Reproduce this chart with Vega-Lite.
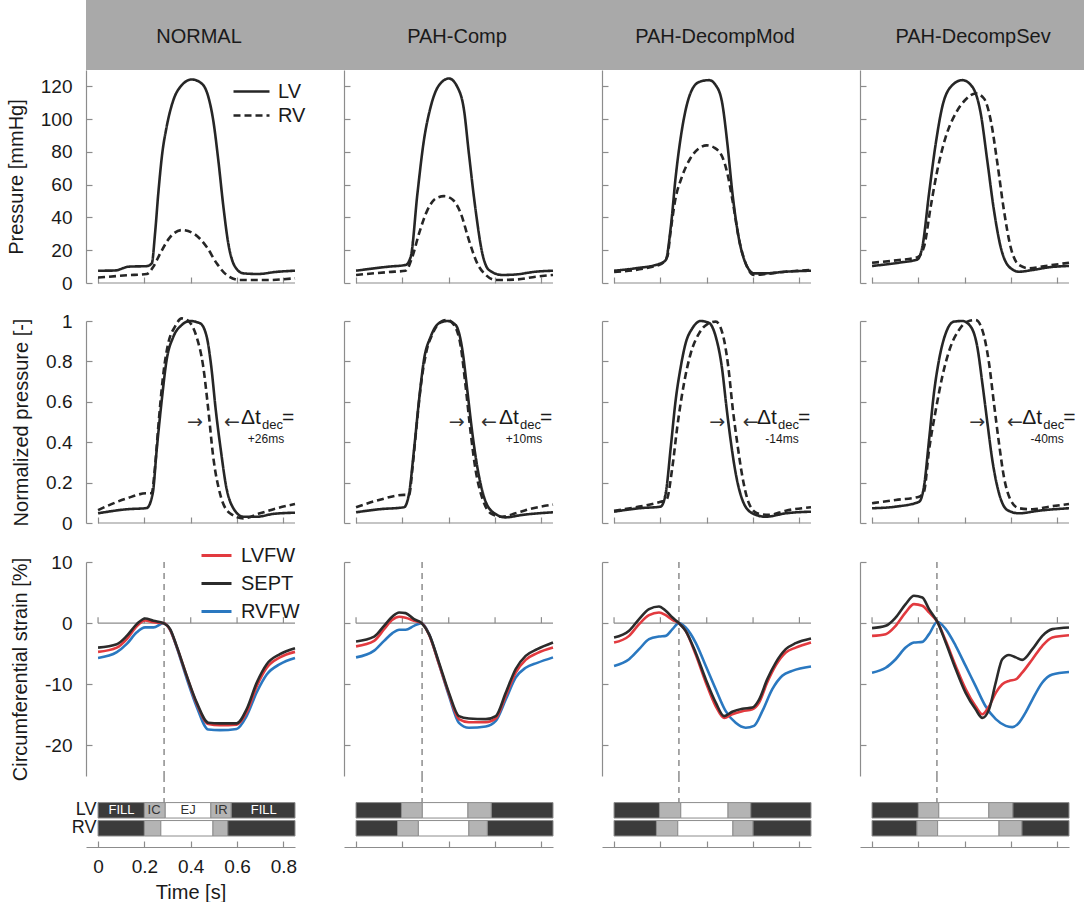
{
"$schema": "https://vega.github.io/schema/vega-lite/v6.json",
"padding": {"left": 6, "top": 0, "right": 0, "bottom": 0},
"background": "white",
"config": {
  "font": "Liberation Sans",
  "view": {"stroke": null},
  "axis": {"grid": false, "domainColor": "#8c8c8c", "tickColor": "#8c8c8c", "domainWidth": 1.2, "tickWidth": 1.2, "tickSize": -6, "tickCount": 12, "labelFontSize": 19, "labelColor": "#1a1a1a", "labelPadding": 20, "titleFontSize": 20, "titleFontWeight": "normal", "titleColor": "#1a1a1a", "titlePadding": 14, "labelFlush": false, "labelOverlap": false},
  "legend": {"labelColor": "#1a1a1a", "labelFont": "Liberation Sans"}
},
"datasets": {
  "scenarios": [{"scenario":"NORMAL"},{"scenario":"PAH-Comp"},{"scenario":"PAH-DecompMod"},{"scenario":"PAH-DecompSev"}],
  "frame": [{"from":0,"to":0.85,"level":0}],
  "ticks": [{"t":0},{"t":0.2},{"t":0.4},{"t":0.6},{"t":0.8}],
  "onset": [{"scenario":"NORMAL","t":0.285},{"scenario":"PAH-Comp","t":0.285},{"scenario":"PAH-DecompMod","t":0.28},{"scenario":"PAH-DecompSev","t":0.28}],
  "dtdec": [
    {"scenario":"NORMAL","label":"+26ms","t":0.617,"tl":0.418,"tr":0.578},
    {"scenario":"PAH-Comp","label":"+10ms","t":0.617,"tl":0.434,"tr":0.574},
    {"scenario":"PAH-DecompMod","label":"-14ms","t":0.617,"tl":0.445,"tr":0.59},
    {"scenario":"PAH-DecompSev","label":"-40ms","t":0.648,"tl":0.454,"tr":0.617}
  ],
  "phaseLabels": [
    {"chamber":"LV","label":"FILL","t":0.101},{"chamber":"LV","label":"IC","t":0.242},{"chamber":"LV","label":"EJ","t":0.389},{"chamber":"LV","label":"IR","t":0.531},{"chamber":"LV","label":"FILL","t":0.715}
  ],
  "phases": [
    {"scenario":"NORMAL","chamber":"LV","phase":"FILL","t0":0,"t1":0.2},
    {"scenario":"NORMAL","chamber":"LV","phase":"IC","t0":0.2,"t1":0.29},
    {"scenario":"NORMAL","chamber":"LV","phase":"EJ","t0":0.29,"t1":0.487},
    {"scenario":"NORMAL","chamber":"LV","phase":"IR","t0":0.487,"t1":0.575},
    {"scenario":"NORMAL","chamber":"LV","phase":"FILL","t0":0.575,"t1":0.85},
    {"scenario":"NORMAL","chamber":"RV","phase":"FILL","t0":0,"t1":0.2},
    {"scenario":"NORMAL","chamber":"RV","phase":"IC","t0":0.2,"t1":0.271},
    {"scenario":"NORMAL","chamber":"RV","phase":"EJ","t0":0.271,"t1":0.496},
    {"scenario":"NORMAL","chamber":"RV","phase":"IR","t0":0.496,"t1":0.56},
    {"scenario":"NORMAL","chamber":"RV","phase":"FILL","t0":0.56,"t1":0.85},
    {"scenario":"PAH-Comp","chamber":"LV","phase":"FILL","t0":0,"t1":0.196},
    {"scenario":"PAH-Comp","chamber":"LV","phase":"IC","t0":0.196,"t1":0.286},
    {"scenario":"PAH-Comp","chamber":"LV","phase":"EJ","t0":0.286,"t1":0.483},
    {"scenario":"PAH-Comp","chamber":"LV","phase":"IR","t0":0.483,"t1":0.584},
    {"scenario":"PAH-Comp","chamber":"LV","phase":"FILL","t0":0.584,"t1":0.85},
    {"scenario":"PAH-Comp","chamber":"RV","phase":"FILL","t0":0,"t1":0.179},
    {"scenario":"PAH-Comp","chamber":"RV","phase":"IC","t0":0.179,"t1":0.269},
    {"scenario":"PAH-Comp","chamber":"RV","phase":"EJ","t0":0.269,"t1":0.487},
    {"scenario":"PAH-Comp","chamber":"RV","phase":"IR","t0":0.487,"t1":0.567},
    {"scenario":"PAH-Comp","chamber":"RV","phase":"FILL","t0":0.567,"t1":0.85},
    {"scenario":"PAH-DecompMod","chamber":"LV","phase":"FILL","t0":0,"t1":0.196},
    {"scenario":"PAH-DecompMod","chamber":"LV","phase":"IC","t0":0.196,"t1":0.288},
    {"scenario":"PAH-DecompMod","chamber":"LV","phase":"EJ","t0":0.288,"t1":0.492},
    {"scenario":"PAH-DecompMod","chamber":"LV","phase":"IR","t0":0.492,"t1":0.59},
    {"scenario":"PAH-DecompMod","chamber":"LV","phase":"FILL","t0":0.59,"t1":0.85},
    {"scenario":"PAH-DecompMod","chamber":"RV","phase":"FILL","t0":0,"t1":0.183},
    {"scenario":"PAH-DecompMod","chamber":"RV","phase":"IC","t0":0.183,"t1":0.275},
    {"scenario":"PAH-DecompMod","chamber":"RV","phase":"EJ","t0":0.275,"t1":0.513},
    {"scenario":"PAH-DecompMod","chamber":"RV","phase":"IR","t0":0.513,"t1":0.6},
    {"scenario":"PAH-DecompMod","chamber":"RV","phase":"FILL","t0":0.6,"t1":0.85},
    {"scenario":"PAH-DecompSev","chamber":"LV","phase":"FILL","t0":0,"t1":0.2},
    {"scenario":"PAH-DecompSev","chamber":"LV","phase":"IC","t0":0.2,"t1":0.288},
    {"scenario":"PAH-DecompSev","chamber":"LV","phase":"EJ","t0":0.288,"t1":0.504},
    {"scenario":"PAH-DecompSev","chamber":"LV","phase":"IR","t0":0.504,"t1":0.608},
    {"scenario":"PAH-DecompSev","chamber":"LV","phase":"FILL","t0":0.608,"t1":0.85},
    {"scenario":"PAH-DecompSev","chamber":"RV","phase":"FILL","t0":0,"t1":0.194},
    {"scenario":"PAH-DecompSev","chamber":"RV","phase":"IC","t0":0.194,"t1":0.283},
    {"scenario":"PAH-DecompSev","chamber":"RV","phase":"EJ","t0":0.283,"t1":0.548},
    {"scenario":"PAH-DecompSev","chamber":"RV","phase":"IR","t0":0.548,"t1":0.647},
    {"scenario":"PAH-DecompSev","chamber":"RV","phase":"FILL","t0":0.647,"t1":0.85}
  ],
  "pressure": [
    {"scenario":"NORMAL","chamber":"LV","t":0,"p":7.5},{"scenario":"NORMAL","chamber":"LV","t":0.07,"p":7.6},{"scenario":"NORMAL","chamber":"LV","t":0.135,"p":10},{"scenario":"NORMAL","chamber":"LV","t":0.21,"p":10.3},{"scenario":"NORMAL","chamber":"LV","t":0.232,"p":12},{"scenario":"NORMAL","chamber":"LV","t":0.246,"p":30.3},{"scenario":"NORMAL","chamber":"LV","t":0.26,"p":54.7},{"scenario":"NORMAL","chamber":"LV","t":0.277,"p":79},{"scenario":"NORMAL","chamber":"LV","t":0.296,"p":95.3},{"scenario":"NORMAL","chamber":"LV","t":0.325,"p":111.6},{"scenario":"NORMAL","chamber":"LV","t":0.361,"p":120.7},{"scenario":"NORMAL","chamber":"LV","t":0.404,"p":124.2},{"scenario":"NORMAL","chamber":"LV","t":0.447,"p":121.8},{"scenario":"NORMAL","chamber":"LV","t":0.476,"p":113.6},{"scenario":"NORMAL","chamber":"LV","t":0.497,"p":99.4},{"scenario":"NORMAL","chamber":"LV","t":0.519,"p":75},{"scenario":"NORMAL","chamber":"LV","t":0.541,"p":46.5},{"scenario":"NORMAL","chamber":"LV","t":0.562,"p":24.2},{"scenario":"NORMAL","chamber":"LV","t":0.591,"p":10},{"scenario":"NORMAL","chamber":"LV","t":0.627,"p":5.9},{"scenario":"NORMAL","chamber":"LV","t":0.69,"p":5.5},{"scenario":"NORMAL","chamber":"LV","t":0.77,"p":6.8},{"scenario":"NORMAL","chamber":"LV","t":0.85,"p":7.5},
    {"scenario":"NORMAL","chamber":"RV","t":0,"p":3.3},{"scenario":"NORMAL","chamber":"RV","t":0.124,"p":4.7},{"scenario":"NORMAL","chamber":"RV","t":0.21,"p":5.5},{"scenario":"NORMAL","chamber":"RV","t":0.239,"p":10},{"scenario":"NORMAL","chamber":"RV","t":0.268,"p":18},{"scenario":"NORMAL","chamber":"RV","t":0.311,"p":28},{"scenario":"NORMAL","chamber":"RV","t":0.361,"p":32.3},{"scenario":"NORMAL","chamber":"RV","t":0.411,"p":30.3},{"scenario":"NORMAL","chamber":"RV","t":0.469,"p":22},{"scenario":"NORMAL","chamber":"RV","t":0.512,"p":12},{"scenario":"NORMAL","chamber":"RV","t":0.555,"p":4.9},{"scenario":"NORMAL","chamber":"RV","t":0.613,"p":1.8},{"scenario":"NORMAL","chamber":"RV","t":0.728,"p":1.8},{"scenario":"NORMAL","chamber":"RV","t":0.85,"p":2.9},
    {"scenario":"PAH-Comp","chamber":"LV","t":0,"p":7.5},{"scenario":"PAH-Comp","chamber":"LV","t":0.142,"p":10},{"scenario":"PAH-Comp","chamber":"LV","t":0.214,"p":11},{"scenario":"PAH-Comp","chamber":"LV","t":0.236,"p":16},{"scenario":"PAH-Comp","chamber":"LV","t":0.265,"p":54.7},{"scenario":"PAH-Comp","chamber":"LV","t":0.293,"p":87.2},{"scenario":"PAH-Comp","chamber":"LV","t":0.322,"p":107.5},{"scenario":"PAH-Comp","chamber":"LV","t":0.358,"p":120.7},{"scenario":"PAH-Comp","chamber":"LV","t":0.401,"p":124.8},{"scenario":"PAH-Comp","chamber":"LV","t":0.437,"p":119.7},{"scenario":"PAH-Comp","chamber":"LV","t":0.466,"p":105.5},{"scenario":"PAH-Comp","chamber":"LV","t":0.487,"p":79},{"scenario":"PAH-Comp","chamber":"LV","t":0.516,"p":44.5},{"scenario":"PAH-Comp","chamber":"LV","t":0.545,"p":18},{"scenario":"PAH-Comp","chamber":"LV","t":0.574,"p":7.9},{"scenario":"PAH-Comp","chamber":"LV","t":0.631,"p":4.9},{"scenario":"PAH-Comp","chamber":"LV","t":0.689,"p":5.2},{"scenario":"PAH-Comp","chamber":"LV","t":0.775,"p":6.9},{"scenario":"PAH-Comp","chamber":"LV","t":0.85,"p":7.5},
    {"scenario":"PAH-Comp","chamber":"RV","t":0,"p":4.9},{"scenario":"PAH-Comp","chamber":"RV","t":0.142,"p":6.7},{"scenario":"PAH-Comp","chamber":"RV","t":0.214,"p":7.5},{"scenario":"PAH-Comp","chamber":"RV","t":0.243,"p":16},{"scenario":"PAH-Comp","chamber":"RV","t":0.272,"p":30.3},{"scenario":"PAH-Comp","chamber":"RV","t":0.308,"p":44.5},{"scenario":"PAH-Comp","chamber":"RV","t":0.344,"p":51.6},{"scenario":"PAH-Comp","chamber":"RV","t":0.38,"p":53},{"scenario":"PAH-Comp","chamber":"RV","t":0.416,"p":51},{"scenario":"PAH-Comp","chamber":"RV","t":0.452,"p":42.5},{"scenario":"PAH-Comp","chamber":"RV","t":0.487,"p":26.2},{"scenario":"PAH-Comp","chamber":"RV","t":0.523,"p":12},{"scenario":"PAH-Comp","chamber":"RV","t":0.56,"p":4.9},{"scenario":"PAH-Comp","chamber":"RV","t":0.603,"p":1.8},{"scenario":"PAH-Comp","chamber":"RV","t":0.689,"p":2.1},{"scenario":"PAH-Comp","chamber":"RV","t":0.775,"p":3.8},{"scenario":"PAH-Comp","chamber":"RV","t":0.85,"p":4.9},
    {"scenario":"PAH-DecompMod","chamber":"LV","t":0,"p":7.5},{"scenario":"PAH-DecompMod","chamber":"LV","t":0.094,"p":9},{"scenario":"PAH-DecompMod","chamber":"LV","t":0.194,"p":11.6},{"scenario":"PAH-DecompMod","chamber":"LV","t":0.223,"p":14},{"scenario":"PAH-DecompMod","chamber":"LV","t":0.245,"p":34.3},{"scenario":"PAH-DecompMod","chamber":"LV","t":0.266,"p":64.8},{"scenario":"PAH-DecompMod","chamber":"LV","t":0.295,"p":95.3},{"scenario":"PAH-DecompMod","chamber":"LV","t":0.324,"p":113.6},{"scenario":"PAH-DecompMod","chamber":"LV","t":0.367,"p":122.7},{"scenario":"PAH-DecompMod","chamber":"LV","t":0.41,"p":123.8},{"scenario":"PAH-DecompMod","chamber":"LV","t":0.439,"p":120.7},{"scenario":"PAH-DecompMod","chamber":"LV","t":0.467,"p":109.6},{"scenario":"PAH-DecompMod","chamber":"LV","t":0.489,"p":85.2},{"scenario":"PAH-DecompMod","chamber":"LV","t":0.511,"p":54.7},{"scenario":"PAH-DecompMod","chamber":"LV","t":0.54,"p":26.2},{"scenario":"PAH-DecompMod","chamber":"LV","t":0.568,"p":12},{"scenario":"PAH-DecompMod","chamber":"LV","t":0.604,"p":5.9},{"scenario":"PAH-DecompMod","chamber":"LV","t":0.654,"p":5.9},{"scenario":"PAH-DecompMod","chamber":"LV","t":0.74,"p":6.9},{"scenario":"PAH-DecompMod","chamber":"LV","t":0.85,"p":7.5},
    {"scenario":"PAH-DecompMod","chamber":"RV","t":0,"p":6.7},{"scenario":"PAH-DecompMod","chamber":"RV","t":0.194,"p":11},{"scenario":"PAH-DecompMod","chamber":"RV","t":0.23,"p":16},{"scenario":"PAH-DecompMod","chamber":"RV","t":0.243,"p":30.3},{"scenario":"PAH-DecompMod","chamber":"RV","t":0.264,"p":50.6},{"scenario":"PAH-DecompMod","chamber":"RV","t":0.293,"p":64.8},{"scenario":"PAH-DecompMod","chamber":"RV","t":0.329,"p":76},{"scenario":"PAH-DecompMod","chamber":"RV","t":0.365,"p":82},{"scenario":"PAH-DecompMod","chamber":"RV","t":0.4,"p":84},{"scenario":"PAH-DecompMod","chamber":"RV","t":0.431,"p":82.7},{"scenario":"PAH-DecompMod","chamber":"RV","t":0.467,"p":77},{"scenario":"PAH-DecompMod","chamber":"RV","t":0.489,"p":66.9},{"scenario":"PAH-DecompMod","chamber":"RV","t":0.511,"p":50.6},{"scenario":"PAH-DecompMod","chamber":"RV","t":0.54,"p":26.2},{"scenario":"PAH-DecompMod","chamber":"RV","t":0.568,"p":12},{"scenario":"PAH-DecompMod","chamber":"RV","t":0.604,"p":4.9},{"scenario":"PAH-DecompMod","chamber":"RV","t":0.654,"p":5.5},{"scenario":"PAH-DecompMod","chamber":"RV","t":0.74,"p":6.9},{"scenario":"PAH-DecompMod","chamber":"RV","t":0.85,"p":7.9},
    {"scenario":"PAH-DecompSev","chamber":"LV","t":0,"p":10.4},{"scenario":"PAH-DecompSev","chamber":"LV","t":0.116,"p":12.4},{"scenario":"PAH-DecompSev","chamber":"LV","t":0.196,"p":14.4},{"scenario":"PAH-DecompSev","chamber":"LV","t":0.217,"p":22},{"scenario":"PAH-DecompSev","chamber":"LV","t":0.246,"p":54.7},{"scenario":"PAH-DecompSev","chamber":"LV","t":0.275,"p":85.2},{"scenario":"PAH-DecompSev","chamber":"LV","t":0.303,"p":107.5},{"scenario":"PAH-DecompSev","chamber":"LV","t":0.346,"p":120.7},{"scenario":"PAH-DecompSev","chamber":"LV","t":0.39,"p":123.8},{"scenario":"PAH-DecompSev","chamber":"LV","t":0.433,"p":119.7},{"scenario":"PAH-DecompSev","chamber":"LV","t":0.469,"p":103.5},{"scenario":"PAH-DecompSev","chamber":"LV","t":0.497,"p":75},{"scenario":"PAH-DecompSev","chamber":"LV","t":0.526,"p":44.5},{"scenario":"PAH-DecompSev","chamber":"LV","t":0.555,"p":22},{"scenario":"PAH-DecompSev","chamber":"LV","t":0.591,"p":10},{"scenario":"PAH-DecompSev","chamber":"LV","t":0.634,"p":6.9},{"scenario":"PAH-DecompSev","chamber":"LV","t":0.692,"p":7.9},{"scenario":"PAH-DecompSev","chamber":"LV","t":0.764,"p":9.6},{"scenario":"PAH-DecompSev","chamber":"LV","t":0.85,"p":10.4},
    {"scenario":"PAH-DecompSev","chamber":"RV","t":0,"p":12.4},{"scenario":"PAH-DecompSev","chamber":"RV","t":0.116,"p":14},{"scenario":"PAH-DecompSev","chamber":"RV","t":0.196,"p":15.7},{"scenario":"PAH-DecompSev","chamber":"RV","t":0.224,"p":22},{"scenario":"PAH-DecompSev","chamber":"RV","t":0.253,"p":46.5},{"scenario":"PAH-DecompSev","chamber":"RV","t":0.282,"p":68.9},{"scenario":"PAH-DecompSev","chamber":"RV","t":0.318,"p":89.2},{"scenario":"PAH-DecompSev","chamber":"RV","t":0.361,"p":103.5},{"scenario":"PAH-DecompSev","chamber":"RV","t":0.404,"p":112},{"scenario":"PAH-DecompSev","chamber":"RV","t":0.447,"p":115.7},{"scenario":"PAH-DecompSev","chamber":"RV","t":0.483,"p":112.6},{"scenario":"PAH-DecompSev","chamber":"RV","t":0.512,"p":99.4},{"scenario":"PAH-DecompSev","chamber":"RV","t":0.541,"p":73},{"scenario":"PAH-DecompSev","chamber":"RV","t":0.569,"p":44.5},{"scenario":"PAH-DecompSev","chamber":"RV","t":0.598,"p":22},{"scenario":"PAH-DecompSev","chamber":"RV","t":0.634,"p":11},{"scenario":"PAH-DecompSev","chamber":"RV","t":0.677,"p":9},{"scenario":"PAH-DecompSev","chamber":"RV","t":0.749,"p":10.4},{"scenario":"PAH-DecompSev","chamber":"RV","t":0.85,"p":12.4}
  ],
  "norm": [
    {"scenario":"NORMAL","chamber":"LV","t":0,"n":0.048},{"scenario":"NORMAL","chamber":"LV","t":0.124,"n":0.068},{"scenario":"NORMAL","chamber":"LV","t":0.21,"n":0.074},{"scenario":"NORMAL","chamber":"LV","t":0.236,"n":0.147},{"scenario":"NORMAL","chamber":"LV","t":0.253,"n":0.361},{"scenario":"NORMAL","chamber":"LV","t":0.275,"n":0.609},{"scenario":"NORMAL","chamber":"LV","t":0.296,"n":0.807},{"scenario":"NORMAL","chamber":"LV","t":0.325,"n":0.922},{"scenario":"NORMAL","chamber":"LV","t":0.361,"n":0.98},{"scenario":"NORMAL","chamber":"LV","t":0.397,"n":1.0},{"scenario":"NORMAL","chamber":"LV","t":0.44,"n":0.989},{"scenario":"NORMAL","chamber":"LV","t":0.469,"n":0.922},{"scenario":"NORMAL","chamber":"LV","t":0.488,"n":0.78},{"scenario":"NORMAL","chamber":"LV","t":0.508,"n":0.56},{"scenario":"NORMAL","chamber":"LV","t":0.53,"n":0.36},{"scenario":"NORMAL","chamber":"LV","t":0.553,"n":0.18},{"scenario":"NORMAL","chamber":"LV","t":0.584,"n":0.073},{"scenario":"NORMAL","chamber":"LV","t":0.627,"n":0.031},{"scenario":"NORMAL","chamber":"LV","t":0.685,"n":0.031},{"scenario":"NORMAL","chamber":"LV","t":0.756,"n":0.045},{"scenario":"NORMAL","chamber":"LV","t":0.85,"n":0.051},
    {"scenario":"NORMAL","chamber":"RV","t":0,"n":0.064},{"scenario":"NORMAL","chamber":"RV","t":0.124,"n":0.122},{"scenario":"NORMAL","chamber":"RV","t":0.21,"n":0.147},{"scenario":"NORMAL","chamber":"RV","t":0.231,"n":0.147},{"scenario":"NORMAL","chamber":"RV","t":0.246,"n":0.279},{"scenario":"NORMAL","chamber":"RV","t":0.26,"n":0.477},{"scenario":"NORMAL","chamber":"RV","t":0.282,"n":0.741},{"scenario":"NORMAL","chamber":"RV","t":0.303,"n":0.89},{"scenario":"NORMAL","chamber":"RV","t":0.332,"n":0.972},{"scenario":"NORMAL","chamber":"RV","t":0.361,"n":1.013},{"scenario":"NORMAL","chamber":"RV","t":0.39,"n":1.0},{"scenario":"NORMAL","chamber":"RV","t":0.425,"n":0.922},{"scenario":"NORMAL","chamber":"RV","t":0.454,"n":0.774},{"scenario":"NORMAL","chamber":"RV","t":0.476,"n":0.559},{"scenario":"NORMAL","chamber":"RV","t":0.497,"n":0.328},{"scenario":"NORMAL","chamber":"RV","t":0.526,"n":0.147},{"scenario":"NORMAL","chamber":"RV","t":0.569,"n":0.048},{"scenario":"NORMAL","chamber":"RV","t":0.627,"n":0.023},{"scenario":"NORMAL","chamber":"RV","t":0.699,"n":0.048},{"scenario":"NORMAL","chamber":"RV","t":0.771,"n":0.073},{"scenario":"NORMAL","chamber":"RV","t":0.85,"n":0.094},
    {"scenario":"PAH-Comp","chamber":"LV","t":0,"n":0.053},{"scenario":"PAH-Comp","chamber":"LV","t":0.099,"n":0.068},{"scenario":"PAH-Comp","chamber":"LV","t":0.207,"n":0.078},{"scenario":"PAH-Comp","chamber":"LV","t":0.229,"n":0.147},{"scenario":"PAH-Comp","chamber":"LV","t":0.25,"n":0.361},{"scenario":"PAH-Comp","chamber":"LV","t":0.272,"n":0.609},{"scenario":"PAH-Comp","chamber":"LV","t":0.293,"n":0.807},{"scenario":"PAH-Comp","chamber":"LV","t":0.322,"n":0.922},{"scenario":"PAH-Comp","chamber":"LV","t":0.358,"n":0.989},{"scenario":"PAH-Comp","chamber":"LV","t":0.394,"n":1.0},{"scenario":"PAH-Comp","chamber":"LV","t":0.43,"n":0.98},{"scenario":"PAH-Comp","chamber":"LV","t":0.459,"n":0.856},{"scenario":"PAH-Comp","chamber":"LV","t":0.48,"n":0.658},{"scenario":"PAH-Comp","chamber":"LV","t":0.502,"n":0.444},{"scenario":"PAH-Comp","chamber":"LV","t":0.523,"n":0.279},{"scenario":"PAH-Comp","chamber":"LV","t":0.552,"n":0.13},{"scenario":"PAH-Comp","chamber":"LV","t":0.588,"n":0.056},{"scenario":"PAH-Comp","chamber":"LV","t":0.646,"n":0.028},{"scenario":"PAH-Comp","chamber":"LV","t":0.717,"n":0.04},{"scenario":"PAH-Comp","chamber":"LV","t":0.85,"n":0.053},
    {"scenario":"PAH-Comp","chamber":"RV","t":0,"n":0.078},{"scenario":"PAH-Comp","chamber":"RV","t":0.099,"n":0.114},{"scenario":"PAH-Comp","chamber":"RV","t":0.207,"n":0.139},{"scenario":"PAH-Comp","chamber":"RV","t":0.229,"n":0.139},{"scenario":"PAH-Comp","chamber":"RV","t":0.244,"n":0.279},{"scenario":"PAH-Comp","chamber":"RV","t":0.261,"n":0.477},{"scenario":"PAH-Comp","chamber":"RV","t":0.279,"n":0.675},{"scenario":"PAH-Comp","chamber":"RV","t":0.302,"n":0.84},{"scenario":"PAH-Comp","chamber":"RV","t":0.331,"n":0.939},{"scenario":"PAH-Comp","chamber":"RV","t":0.367,"n":0.997},{"scenario":"PAH-Comp","chamber":"RV","t":0.394,"n":1.005},{"scenario":"PAH-Comp","chamber":"RV","t":0.423,"n":0.98},{"scenario":"PAH-Comp","chamber":"RV","t":0.452,"n":0.873},{"scenario":"PAH-Comp","chamber":"RV","t":0.473,"n":0.675},{"scenario":"PAH-Comp","chamber":"RV","t":0.495,"n":0.444},{"scenario":"PAH-Comp","chamber":"RV","t":0.516,"n":0.262},{"scenario":"PAH-Comp","chamber":"RV","t":0.545,"n":0.122},{"scenario":"PAH-Comp","chamber":"RV","t":0.581,"n":0.048},{"scenario":"PAH-Comp","chamber":"RV","t":0.631,"n":0.031},{"scenario":"PAH-Comp","chamber":"RV","t":0.688,"n":0.048},{"scenario":"PAH-Comp","chamber":"RV","t":0.746,"n":0.068},{"scenario":"PAH-Comp","chamber":"RV","t":0.85,"n":0.091},
    {"scenario":"PAH-DecompMod","chamber":"LV","t":0,"n":0.056},{"scenario":"PAH-DecompMod","chamber":"LV","t":0.108,"n":0.073},{"scenario":"PAH-DecompMod","chamber":"LV","t":0.201,"n":0.081},{"scenario":"PAH-DecompMod","chamber":"LV","t":0.223,"n":0.147},{"scenario":"PAH-DecompMod","chamber":"LV","t":0.245,"n":0.378},{"scenario":"PAH-DecompMod","chamber":"LV","t":0.266,"n":0.609},{"scenario":"PAH-DecompMod","chamber":"LV","t":0.288,"n":0.774},{"scenario":"PAH-DecompMod","chamber":"LV","t":0.309,"n":0.89},{"scenario":"PAH-DecompMod","chamber":"LV","t":0.338,"n":0.964},{"scenario":"PAH-DecompMod","chamber":"LV","t":0.374,"n":1.0},{"scenario":"PAH-DecompMod","chamber":"LV","t":0.41,"n":0.991},{"scenario":"PAH-DecompMod","chamber":"LV","t":0.439,"n":0.922},{"scenario":"PAH-DecompMod","chamber":"LV","t":0.465,"n":0.774},{"scenario":"PAH-DecompMod","chamber":"LV","t":0.485,"n":0.576},{"scenario":"PAH-DecompMod","chamber":"LV","t":0.503,"n":0.411},{"scenario":"PAH-DecompMod","chamber":"LV","t":0.525,"n":0.246},{"scenario":"PAH-DecompMod","chamber":"LV","t":0.554,"n":0.114},{"scenario":"PAH-DecompMod","chamber":"LV","t":0.597,"n":0.048},{"scenario":"PAH-DecompMod","chamber":"LV","t":0.654,"n":0.031},{"scenario":"PAH-DecompMod","chamber":"LV","t":0.741,"n":0.048},{"scenario":"PAH-DecompMod","chamber":"LV","t":0.85,"n":0.056},
    {"scenario":"PAH-DecompMod","chamber":"RV","t":0,"n":0.061},{"scenario":"PAH-DecompMod","chamber":"RV","t":0.108,"n":0.081},{"scenario":"PAH-DecompMod","chamber":"RV","t":0.201,"n":0.105},{"scenario":"PAH-DecompMod","chamber":"RV","t":0.226,"n":0.114},{"scenario":"PAH-DecompMod","chamber":"RV","t":0.252,"n":0.279},{"scenario":"PAH-DecompMod","chamber":"RV","t":0.273,"n":0.477},{"scenario":"PAH-DecompMod","chamber":"RV","t":0.302,"n":0.692},{"scenario":"PAH-DecompMod","chamber":"RV","t":0.331,"n":0.84},{"scenario":"PAH-DecompMod","chamber":"RV","t":0.367,"n":0.939},{"scenario":"PAH-DecompMod","chamber":"RV","t":0.403,"n":0.985},{"scenario":"PAH-DecompMod","chamber":"RV","t":0.439,"n":0.997},{"scenario":"PAH-DecompMod","chamber":"RV","t":0.468,"n":0.939},{"scenario":"PAH-DecompMod","chamber":"RV","t":0.493,"n":0.774},{"scenario":"PAH-DecompMod","chamber":"RV","t":0.513,"n":0.559},{"scenario":"PAH-DecompMod","chamber":"RV","t":0.532,"n":0.394},{"scenario":"PAH-DecompMod","chamber":"RV","t":0.554,"n":0.229},{"scenario":"PAH-DecompMod","chamber":"RV","t":0.582,"n":0.098},{"scenario":"PAH-DecompMod","chamber":"RV","t":0.618,"n":0.048},{"scenario":"PAH-DecompMod","chamber":"RV","t":0.669,"n":0.04},{"scenario":"PAH-DecompMod","chamber":"RV","t":0.741,"n":0.061},{"scenario":"PAH-DecompMod","chamber":"RV","t":0.85,"n":0.078},
    {"scenario":"PAH-DecompSev","chamber":"LV","t":0,"n":0.073},{"scenario":"PAH-DecompSev","chamber":"LV","t":0.102,"n":0.081},{"scenario":"PAH-DecompSev","chamber":"LV","t":0.203,"n":0.105},{"scenario":"PAH-DecompSev","chamber":"LV","t":0.224,"n":0.18},{"scenario":"PAH-DecompSev","chamber":"LV","t":0.246,"n":0.411},{"scenario":"PAH-DecompSev","chamber":"LV","t":0.267,"n":0.642},{"scenario":"PAH-DecompSev","chamber":"LV","t":0.289,"n":0.807},{"scenario":"PAH-DecompSev","chamber":"LV","t":0.318,"n":0.939},{"scenario":"PAH-DecompSev","chamber":"LV","t":0.354,"n":0.997},{"scenario":"PAH-DecompSev","chamber":"LV","t":0.39,"n":1.0},{"scenario":"PAH-DecompSev","chamber":"LV","t":0.426,"n":0.972},{"scenario":"PAH-DecompSev","chamber":"LV","t":0.454,"n":0.873},{"scenario":"PAH-DecompSev","chamber":"LV","t":0.476,"n":0.692},{"scenario":"PAH-DecompSev","chamber":"LV","t":0.498,"n":0.494},{"scenario":"PAH-DecompSev","chamber":"LV","t":0.519,"n":0.312},{"scenario":"PAH-DecompSev","chamber":"LV","t":0.548,"n":0.147},{"scenario":"PAH-DecompSev","chamber":"LV","t":0.584,"n":0.064},{"scenario":"PAH-DecompSev","chamber":"LV","t":0.634,"n":0.048},{"scenario":"PAH-DecompSev","chamber":"LV","t":0.72,"n":0.061},{"scenario":"PAH-DecompSev","chamber":"LV","t":0.85,"n":0.073},
    {"scenario":"PAH-DecompSev","chamber":"RV","t":0,"n":0.098},{"scenario":"PAH-DecompSev","chamber":"RV","t":0.102,"n":0.114},{"scenario":"PAH-DecompSev","chamber":"RV","t":0.203,"n":0.13},{"scenario":"PAH-DecompSev","chamber":"RV","t":0.224,"n":0.155},{"scenario":"PAH-DecompSev","chamber":"RV","t":0.246,"n":0.361},{"scenario":"PAH-DecompSev","chamber":"RV","t":0.275,"n":0.559},{"scenario":"PAH-DecompSev","chamber":"RV","t":0.303,"n":0.724},{"scenario":"PAH-DecompSev","chamber":"RV","t":0.339,"n":0.873},{"scenario":"PAH-DecompSev","chamber":"RV","t":0.375,"n":0.955},{"scenario":"PAH-DecompSev","chamber":"RV","t":0.411,"n":0.997},{"scenario":"PAH-DecompSev","chamber":"RV","t":0.447,"n":1.005},{"scenario":"PAH-DecompSev","chamber":"RV","t":0.476,"n":0.955},{"scenario":"PAH-DecompSev","chamber":"RV","t":0.505,"n":0.79},{"scenario":"PAH-DecompSev","chamber":"RV","t":0.526,"n":0.593},{"scenario":"PAH-DecompSev","chamber":"RV","t":0.548,"n":0.394},{"scenario":"PAH-DecompSev","chamber":"RV","t":0.569,"n":0.229},{"scenario":"PAH-DecompSev","chamber":"RV","t":0.598,"n":0.114},{"scenario":"PAH-DecompSev","chamber":"RV","t":0.634,"n":0.073},{"scenario":"PAH-DecompSev","chamber":"RV","t":0.692,"n":0.068},{"scenario":"PAH-DecompSev","chamber":"RV","t":0.764,"n":0.081},{"scenario":"PAH-DecompSev","chamber":"RV","t":0.85,"n":0.094}
  ],
  "strain": [
    {"scenario":"NORMAL","segment":"RVFW","t":0,"s":-5.7},{"scenario":"NORMAL","segment":"RVFW","t":0.081,"s":-4.75},{"scenario":"NORMAL","segment":"RVFW","t":0.124,"s":-3.4},{"scenario":"NORMAL","segment":"RVFW","t":0.167,"s":-1.5},{"scenario":"NORMAL","segment":"RVFW","t":0.203,"s":-0.7},{"scenario":"NORMAL","segment":"RVFW","t":0.239,"s":-0.7},{"scenario":"NORMAL","segment":"RVFW","t":0.282,"s":0},{"scenario":"NORMAL","segment":"RVFW","t":0.311,"s":-1.1},{"scenario":"NORMAL","segment":"RVFW","t":0.339,"s":-3.9},{"scenario":"NORMAL","segment":"RVFW","t":0.383,"s":-9.1},{"scenario":"NORMAL","segment":"RVFW","t":0.426,"s":-13.7},{"scenario":"NORMAL","segment":"RVFW","t":0.476,"s":-17.4},{"scenario":"NORMAL","segment":"RVFW","t":0.526,"s":-17.5},{"scenario":"NORMAL","segment":"RVFW","t":0.598,"s":-17.3},{"scenario":"NORMAL","segment":"RVFW","t":0.641,"s":-15.2},{"scenario":"NORMAL","segment":"RVFW","t":0.685,"s":-11.3},{"scenario":"NORMAL","segment":"RVFW","t":0.728,"s":-8.4},{"scenario":"NORMAL","segment":"RVFW","t":0.785,"s":-6.7},{"scenario":"NORMAL","segment":"RVFW","t":0.85,"s":-5.7},
    {"scenario":"NORMAL","segment":"LVFW","t":0,"s":-4.7},{"scenario":"NORMAL","segment":"LVFW","t":0.081,"s":-4.0},{"scenario":"NORMAL","segment":"LVFW","t":0.124,"s":-2.6},{"scenario":"NORMAL","segment":"LVFW","t":0.167,"s":-0.5},{"scenario":"NORMAL","segment":"LVFW","t":0.203,"s":0.44},{"scenario":"NORMAL","segment":"LVFW","t":0.239,"s":0.16},{"scenario":"NORMAL","segment":"LVFW","t":0.282,"s":0},{"scenario":"NORMAL","segment":"LVFW","t":0.311,"s":-1.1},{"scenario":"NORMAL","segment":"LVFW","t":0.339,"s":-3.8},{"scenario":"NORMAL","segment":"LVFW","t":0.383,"s":-8.7},{"scenario":"NORMAL","segment":"LVFW","t":0.426,"s":-13.2},{"scenario":"NORMAL","segment":"LVFW","t":0.476,"s":-16.5},{"scenario":"NORMAL","segment":"LVFW","t":0.526,"s":-16.7},{"scenario":"NORMAL","segment":"LVFW","t":0.598,"s":-16.6},{"scenario":"NORMAL","segment":"LVFW","t":0.641,"s":-14.6},{"scenario":"NORMAL","segment":"LVFW","t":0.685,"s":-10.3},{"scenario":"NORMAL","segment":"LVFW","t":0.728,"s":-7.3},{"scenario":"NORMAL","segment":"LVFW","t":0.785,"s":-5.6},{"scenario":"NORMAL","segment":"LVFW","t":0.85,"s":-4.7},
    {"scenario":"NORMAL","segment":"SEPT","t":0,"s":-4.0},{"scenario":"NORMAL","segment":"SEPT","t":0.081,"s":-3.44},{"scenario":"NORMAL","segment":"SEPT","t":0.124,"s":-2.08},{"scenario":"NORMAL","segment":"SEPT","t":0.167,"s":-0.16},{"scenario":"NORMAL","segment":"SEPT","t":0.203,"s":0.77},{"scenario":"NORMAL","segment":"SEPT","t":0.239,"s":0.38},{"scenario":"NORMAL","segment":"SEPT","t":0.282,"s":0},{"scenario":"NORMAL","segment":"SEPT","t":0.311,"s":-0.98},{"scenario":"NORMAL","segment":"SEPT","t":0.339,"s":-3.72},{"scenario":"NORMAL","segment":"SEPT","t":0.383,"s":-8.63},{"scenario":"NORMAL","segment":"SEPT","t":0.426,"s":-13.0},{"scenario":"NORMAL","segment":"SEPT","t":0.476,"s":-16.3},{"scenario":"NORMAL","segment":"SEPT","t":0.526,"s":-16.4},{"scenario":"NORMAL","segment":"SEPT","t":0.598,"s":-16.4},{"scenario":"NORMAL","segment":"SEPT","t":0.641,"s":-14.1},{"scenario":"NORMAL","segment":"SEPT","t":0.685,"s":-9.73},{"scenario":"NORMAL","segment":"SEPT","t":0.728,"s":-6.72},{"scenario":"NORMAL","segment":"SEPT","t":0.785,"s":-5.08},{"scenario":"NORMAL","segment":"SEPT","t":0.85,"s":-4.1},
    {"scenario":"PAH-Comp","segment":"RVFW","t":0,"s":-5.6},{"scenario":"PAH-Comp","segment":"RVFW","t":0.078,"s":-4.5},{"scenario":"PAH-Comp","segment":"RVFW","t":0.121,"s":-2.9},{"scenario":"PAH-Comp","segment":"RVFW","t":0.157,"s":-1.64},{"scenario":"PAH-Comp","segment":"RVFW","t":0.186,"s":-1.09},{"scenario":"PAH-Comp","segment":"RVFW","t":0.214,"s":-1.09},{"scenario":"PAH-Comp","segment":"RVFW","t":0.25,"s":-0.44},{"scenario":"PAH-Comp","segment":"RVFW","t":0.283,"s":0},{"scenario":"PAH-Comp","segment":"RVFW","t":0.315,"s":-1.8},{"scenario":"PAH-Comp","segment":"RVFW","t":0.358,"s":-6.7},{"scenario":"PAH-Comp","segment":"RVFW","t":0.401,"s":-11.9},{"scenario":"PAH-Comp","segment":"RVFW","t":0.444,"s":-16.3},{"scenario":"PAH-Comp","segment":"RVFW","t":0.487,"s":-17.1},{"scenario":"PAH-Comp","segment":"RVFW","t":0.56,"s":-16.9},{"scenario":"PAH-Comp","segment":"RVFW","t":0.603,"s":-16.0},{"scenario":"PAH-Comp","segment":"RVFW","t":0.646,"s":-12.5},{"scenario":"PAH-Comp","segment":"RVFW","t":0.689,"s":-8.9},{"scenario":"PAH-Comp","segment":"RVFW","t":0.732,"s":-7.3},{"scenario":"PAH-Comp","segment":"RVFW","t":0.782,"s":-6.5},{"scenario":"PAH-Comp","segment":"RVFW","t":0.85,"s":-5.6},
    {"scenario":"PAH-Comp","segment":"LVFW","t":0,"s":-3.8},{"scenario":"PAH-Comp","segment":"LVFW","t":0.078,"s":-2.9},{"scenario":"PAH-Comp","segment":"LVFW","t":0.121,"s":-1.0},{"scenario":"PAH-Comp","segment":"LVFW","t":0.157,"s":0.55},{"scenario":"PAH-Comp","segment":"LVFW","t":0.186,"s":1.04},{"scenario":"PAH-Comp","segment":"LVFW","t":0.214,"s":0.87},{"scenario":"PAH-Comp","segment":"LVFW","t":0.25,"s":0.38},{"scenario":"PAH-Comp","segment":"LVFW","t":0.283,"s":0},{"scenario":"PAH-Comp","segment":"LVFW","t":0.315,"s":-1.9},{"scenario":"PAH-Comp","segment":"LVFW","t":0.358,"s":-6.7},{"scenario":"PAH-Comp","segment":"LVFW","t":0.401,"s":-11.6},{"scenario":"PAH-Comp","segment":"LVFW","t":0.444,"s":-15.7},{"scenario":"PAH-Comp","segment":"LVFW","t":0.487,"s":-16.2},{"scenario":"PAH-Comp","segment":"LVFW","t":0.56,"s":-16.2},{"scenario":"PAH-Comp","segment":"LVFW","t":0.603,"s":-15.6},{"scenario":"PAH-Comp","segment":"LVFW","t":0.646,"s":-11.9},{"scenario":"PAH-Comp","segment":"LVFW","t":0.689,"s":-8.1},{"scenario":"PAH-Comp","segment":"LVFW","t":0.732,"s":-6.0},{"scenario":"PAH-Comp","segment":"LVFW","t":0.782,"s":-4.9},{"scenario":"PAH-Comp","segment":"LVFW","t":0.85,"s":-4.0},
    {"scenario":"PAH-Comp","segment":"SEPT","t":0,"s":-3.0},{"scenario":"PAH-Comp","segment":"SEPT","t":0.078,"s":-2.2},{"scenario":"PAH-Comp","segment":"SEPT","t":0.121,"s":-0.44},{"scenario":"PAH-Comp","segment":"SEPT","t":0.157,"s":1.09},{"scenario":"PAH-Comp","segment":"SEPT","t":0.186,"s":1.75},{"scenario":"PAH-Comp","segment":"SEPT","t":0.214,"s":1.64},{"scenario":"PAH-Comp","segment":"SEPT","t":0.25,"s":0.66},{"scenario":"PAH-Comp","segment":"SEPT","t":0.283,"s":0},{"scenario":"PAH-Comp","segment":"SEPT","t":0.315,"s":-1.8},{"scenario":"PAH-Comp","segment":"SEPT","t":0.358,"s":-6.45},{"scenario":"PAH-Comp","segment":"SEPT","t":0.401,"s":-11.4},{"scenario":"PAH-Comp","segment":"SEPT","t":0.444,"s":-15.2},{"scenario":"PAH-Comp","segment":"SEPT","t":0.487,"s":-15.6},{"scenario":"PAH-Comp","segment":"SEPT","t":0.56,"s":-15.7},{"scenario":"PAH-Comp","segment":"SEPT","t":0.603,"s":-15.2},{"scenario":"PAH-Comp","segment":"SEPT","t":0.646,"s":-11.4},{"scenario":"PAH-Comp","segment":"SEPT","t":0.689,"s":-7.5},{"scenario":"PAH-Comp","segment":"SEPT","t":0.732,"s":-5.36},{"scenario":"PAH-Comp","segment":"SEPT","t":0.782,"s":-4.26},{"scenario":"PAH-Comp","segment":"SEPT","t":0.85,"s":-3.17},
    {"scenario":"PAH-DecompMod","segment":"RVFW","t":0,"s":-7.0},{"scenario":"PAH-DecompMod","segment":"RVFW","t":0.065,"s":-5.9},{"scenario":"PAH-DecompMod","segment":"RVFW","t":0.108,"s":-4.26},{"scenario":"PAH-DecompMod","segment":"RVFW","t":0.151,"s":-2.62},{"scenario":"PAH-DecompMod","segment":"RVFW","t":0.194,"s":-2.19},{"scenario":"PAH-DecompMod","segment":"RVFW","t":0.223,"s":-2.08},{"scenario":"PAH-DecompMod","segment":"RVFW","t":0.252,"s":-0.98},{"scenario":"PAH-DecompMod","segment":"RVFW","t":0.28,"s":0},{"scenario":"PAH-DecompMod","segment":"RVFW","t":0.309,"s":-0.71},{"scenario":"PAH-DecompMod","segment":"RVFW","t":0.352,"s":-3.17},{"scenario":"PAH-DecompMod","segment":"RVFW","t":0.396,"s":-7.0},{"scenario":"PAH-DecompMod","segment":"RVFW","t":0.439,"s":-10.8},{"scenario":"PAH-DecompMod","segment":"RVFW","t":0.482,"s":-14.4},{"scenario":"PAH-DecompMod","segment":"RVFW","t":0.525,"s":-16.3},{"scenario":"PAH-DecompMod","segment":"RVFW","t":0.568,"s":-17.1},{"scenario":"PAH-DecompMod","segment":"RVFW","t":0.604,"s":-16.8},{"scenario":"PAH-DecompMod","segment":"RVFW","t":0.64,"s":-14.4},{"scenario":"PAH-DecompMod","segment":"RVFW","t":0.683,"s":-10.8},{"scenario":"PAH-DecompMod","segment":"RVFW","t":0.726,"s":-8.6},{"scenario":"PAH-DecompMod","segment":"RVFW","t":0.769,"s":-7.8},{"scenario":"PAH-DecompMod","segment":"RVFW","t":0.85,"s":-7.1},
    {"scenario":"PAH-DecompMod","segment":"LVFW","t":0,"s":-3.17},{"scenario":"PAH-DecompMod","segment":"LVFW","t":0.065,"s":-2.08},{"scenario":"PAH-DecompMod","segment":"LVFW","t":0.108,"s":-0.16},{"scenario":"PAH-DecompMod","segment":"LVFW","t":0.151,"s":1.31},{"scenario":"PAH-DecompMod","segment":"LVFW","t":0.194,"s":1.75},{"scenario":"PAH-DecompMod","segment":"LVFW","t":0.223,"s":1.31},{"scenario":"PAH-DecompMod","segment":"LVFW","t":0.252,"s":0.55},{"scenario":"PAH-DecompMod","segment":"LVFW","t":0.28,"s":0},{"scenario":"PAH-DecompMod","segment":"LVFW","t":0.309,"s":-1.26},{"scenario":"PAH-DecompMod","segment":"LVFW","t":0.352,"s":-5.1},{"scenario":"PAH-DecompMod","segment":"LVFW","t":0.396,"s":-9.7},{"scenario":"PAH-DecompMod","segment":"LVFW","t":0.439,"s":-13.6},{"scenario":"PAH-DecompMod","segment":"LVFW","t":0.475,"s":-15.5},{"scenario":"PAH-DecompMod","segment":"LVFW","t":0.51,"s":-14.9},{"scenario":"PAH-DecompMod","segment":"LVFW","t":0.554,"s":-14.4},{"scenario":"PAH-DecompMod","segment":"LVFW","t":0.597,"s":-14.1},{"scenario":"PAH-DecompMod","segment":"LVFW","t":0.626,"s":-13.0},{"scenario":"PAH-DecompMod","segment":"LVFW","t":0.661,"s":-9.7},{"scenario":"PAH-DecompMod","segment":"LVFW","t":0.698,"s":-6.9},{"scenario":"PAH-DecompMod","segment":"LVFW","t":0.741,"s":-4.8},{"scenario":"PAH-DecompMod","segment":"LVFW","t":0.784,"s":-4.0},{"scenario":"PAH-DecompMod","segment":"LVFW","t":0.85,"s":-3.17},
    {"scenario":"PAH-DecompMod","segment":"SEPT","t":0,"s":-2.35},{"scenario":"PAH-DecompMod","segment":"SEPT","t":0.065,"s":-1.26},{"scenario":"PAH-DecompMod","segment":"SEPT","t":0.108,"s":0.66},{"scenario":"PAH-DecompMod","segment":"SEPT","t":0.151,"s":2.3},{"scenario":"PAH-DecompMod","segment":"SEPT","t":0.194,"s":2.73},{"scenario":"PAH-DecompMod","segment":"SEPT","t":0.223,"s":2.02},{"scenario":"PAH-DecompMod","segment":"SEPT","t":0.252,"s":0.93},{"scenario":"PAH-DecompMod","segment":"SEPT","t":0.28,"s":0},{"scenario":"PAH-DecompMod","segment":"SEPT","t":0.309,"s":-1.26},{"scenario":"PAH-DecompMod","segment":"SEPT","t":0.352,"s":-4.8},{"scenario":"PAH-DecompMod","segment":"SEPT","t":0.396,"s":-9.2},{"scenario":"PAH-DecompMod","segment":"SEPT","t":0.439,"s":-13.0},{"scenario":"PAH-DecompMod","segment":"SEPT","t":0.475,"s":-15.2},{"scenario":"PAH-DecompMod","segment":"SEPT","t":0.51,"s":-14.5},{"scenario":"PAH-DecompMod","segment":"SEPT","t":0.554,"s":-14.0},{"scenario":"PAH-DecompMod","segment":"SEPT","t":0.597,"s":-13.8},{"scenario":"PAH-DecompMod","segment":"SEPT","t":0.626,"s":-12.5},{"scenario":"PAH-DecompMod","segment":"SEPT","t":0.661,"s":-9.2},{"scenario":"PAH-DecompMod","segment":"SEPT","t":0.698,"s":-6.45},{"scenario":"PAH-DecompMod","segment":"SEPT","t":0.741,"s":-4.26},{"scenario":"PAH-DecompMod","segment":"SEPT","t":0.784,"s":-3.28},{"scenario":"PAH-DecompMod","segment":"SEPT","t":0.85,"s":-2.5},
    {"scenario":"PAH-DecompSev","segment":"RVFW","t":0,"s":-8.1},{"scenario":"PAH-DecompSev","segment":"RVFW","t":0.059,"s":-7.3},{"scenario":"PAH-DecompSev","segment":"RVFW","t":0.102,"s":-5.9},{"scenario":"PAH-DecompSev","segment":"RVFW","t":0.145,"s":-4.0},{"scenario":"PAH-DecompSev","segment":"RVFW","t":0.181,"s":-3.17},{"scenario":"PAH-DecompSev","segment":"RVFW","t":0.217,"s":-3.06},{"scenario":"PAH-DecompSev","segment":"RVFW","t":0.246,"s":-1.8},{"scenario":"PAH-DecompSev","segment":"RVFW","t":0.282,"s":0.22},{"scenario":"PAH-DecompSev","segment":"RVFW","t":0.318,"s":-0.98},{"scenario":"PAH-DecompSev","segment":"RVFW","t":0.361,"s":-3.7},{"scenario":"PAH-DecompSev","segment":"RVFW","t":0.404,"s":-7.0},{"scenario":"PAH-DecompSev","segment":"RVFW","t":0.447,"s":-10.3},{"scenario":"PAH-DecompSev","segment":"RVFW","t":0.49,"s":-13.6},{"scenario":"PAH-DecompSev","segment":"RVFW","t":0.534,"s":-15.7},{"scenario":"PAH-DecompSev","segment":"RVFW","t":0.577,"s":-16.8},{"scenario":"PAH-DecompSev","segment":"RVFW","t":0.605,"s":-17.0},{"scenario":"PAH-DecompSev","segment":"RVFW","t":0.634,"s":-16.3},{"scenario":"PAH-DecompSev","segment":"RVFW","t":0.663,"s":-14.6},{"scenario":"PAH-DecompSev","segment":"RVFW","t":0.692,"s":-12.5},{"scenario":"PAH-DecompSev","segment":"RVFW","t":0.735,"s":-9.7},{"scenario":"PAH-DecompSev","segment":"RVFW","t":0.778,"s":-8.4},{"scenario":"PAH-DecompSev","segment":"RVFW","t":0.85,"s":-8.0},
    {"scenario":"PAH-DecompSev","segment":"LVFW","t":0,"s":-2.08},{"scenario":"PAH-DecompSev","segment":"LVFW","t":0.059,"s":-1.8},{"scenario":"PAH-DecompSev","segment":"LVFW","t":0.102,"s":-0.44},{"scenario":"PAH-DecompSev","segment":"LVFW","t":0.145,"s":1.75},{"scenario":"PAH-DecompSev","segment":"LVFW","t":0.181,"s":3.11},{"scenario":"PAH-DecompSev","segment":"LVFW","t":0.217,"s":2.84},{"scenario":"PAH-DecompSev","segment":"LVFW","t":0.246,"s":1.75},{"scenario":"PAH-DecompSev","segment":"LVFW","t":0.282,"s":0.2},{"scenario":"PAH-DecompSev","segment":"LVFW","t":0.318,"s":-2.9},{"scenario":"PAH-DecompSev","segment":"LVFW","t":0.361,"s":-7.0},{"scenario":"PAH-DecompSev","segment":"LVFW","t":0.404,"s":-10.8},{"scenario":"PAH-DecompSev","segment":"LVFW","t":0.447,"s":-13.6},{"scenario":"PAH-DecompSev","segment":"LVFW","t":0.476,"s":-14.9},{"scenario":"PAH-DecompSev","segment":"LVFW","t":0.505,"s":-13.6},{"scenario":"PAH-DecompSev","segment":"LVFW","t":0.534,"s":-11.4},{"scenario":"PAH-DecompSev","segment":"LVFW","t":0.562,"s":-10.0},{"scenario":"PAH-DecompSev","segment":"LVFW","t":0.591,"s":-9.45},{"scenario":"PAH-DecompSev","segment":"LVFW","t":0.62,"s":-9.2},{"scenario":"PAH-DecompSev","segment":"LVFW","t":0.648,"s":-8.1},{"scenario":"PAH-DecompSev","segment":"LVFW","t":0.692,"s":-5.9},{"scenario":"PAH-DecompSev","segment":"LVFW","t":0.735,"s":-3.7},{"scenario":"PAH-DecompSev","segment":"LVFW","t":0.778,"s":-2.35},{"scenario":"PAH-DecompSev","segment":"LVFW","t":0.85,"s":-1.97},
    {"scenario":"PAH-DecompSev","segment":"SEPT","t":0,"s":-0.82},{"scenario":"PAH-DecompSev","segment":"SEPT","t":0.059,"s":-0.44},{"scenario":"PAH-DecompSev","segment":"SEPT","t":0.102,"s":0.93},{"scenario":"PAH-DecompSev","segment":"SEPT","t":0.145,"s":3.11},{"scenario":"PAH-DecompSev","segment":"SEPT","t":0.181,"s":4.48},{"scenario":"PAH-DecompSev","segment":"SEPT","t":0.217,"s":4.2},{"scenario":"PAH-DecompSev","segment":"SEPT","t":0.246,"s":2.3},{"scenario":"PAH-DecompSev","segment":"SEPT","t":0.282,"s":0.2},{"scenario":"PAH-DecompSev","segment":"SEPT","t":0.318,"s":-3.17},{"scenario":"PAH-DecompSev","segment":"SEPT","t":0.361,"s":-7.5},{"scenario":"PAH-DecompSev","segment":"SEPT","t":0.404,"s":-11.4},{"scenario":"PAH-DecompSev","segment":"SEPT","t":0.447,"s":-14.1},{"scenario":"PAH-DecompSev","segment":"SEPT","t":0.476,"s":-15.5},{"scenario":"PAH-DecompSev","segment":"SEPT","t":0.505,"s":-14.1},{"scenario":"PAH-DecompSev","segment":"SEPT","t":0.534,"s":-9.7},{"scenario":"PAH-DecompSev","segment":"SEPT","t":0.562,"s":-5.9},{"scenario":"PAH-DecompSev","segment":"SEPT","t":0.591,"s":-5.2},{"scenario":"PAH-DecompSev","segment":"SEPT","t":0.62,"s":-5.6},{"scenario":"PAH-DecompSev","segment":"SEPT","t":0.648,"s":-6.0},{"scenario":"PAH-DecompSev","segment":"SEPT","t":0.692,"s":-4.26},{"scenario":"PAH-DecompSev","segment":"SEPT","t":0.735,"s":-2.08},{"scenario":"PAH-DecompSev","segment":"SEPT","t":0.778,"s":-0.98},{"scenario":"PAH-DecompSev","segment":"SEPT","t":0.85,"s":-0.71}
  ]
},
"columns": 4,
"spacing": 0,
"bounds": "flush",
"align": "each",
"resolve": {"scale": {"color": "independent", "strokeDash": "independent"}, "legend": {"color": "independent", "strokeDash": "independent"}},
"concat": [
  {"width": 258, "height": 70, "view": {"fill": "#a9a9a9", "stroke": null}, "data": {"name": "scenarios"}, "transform": [{"filter": "datum.scenario === 'NORMAL'"}],
   "mark": {"type": "text", "fontSize": 20, "color": "#1a1a1a", "baseline": "middle", "dx": -16, "dy": 2}, "encoding": {"text": {"field": "scenario"}}},
  {"width": 258, "height": 70, "view": {"fill": "#a9a9a9", "stroke": null}, "data": {"name": "scenarios"}, "transform": [{"filter": "datum.scenario === 'PAH-Comp'"}],
   "mark": {"type": "text", "fontSize": 20, "color": "#1a1a1a", "baseline": "middle", "dx": -16, "dy": 2}, "encoding": {"text": {"field": "scenario"}}},
  {"width": 258, "height": 70, "view": {"fill": "#a9a9a9", "stroke": null}, "data": {"name": "scenarios"}, "transform": [{"filter": "datum.scenario === 'PAH-DecompMod'"}],
   "mark": {"type": "text", "fontSize": 20, "color": "#1a1a1a", "baseline": "middle", "dx": -16, "dy": 2}, "encoding": {"text": {"field": "scenario"}}},
  {"width": 224, "height": 70, "view": {"fill": "#a9a9a9", "stroke": null}, "data": {"name": "scenarios"}, "transform": [{"filter": "datum.scenario === 'PAH-DecompSev'"}],
   "mark": {"type": "text", "fontSize": 20, "color": "#1a1a1a", "baseline": "middle", "dx": 1, "dy": 2}, "encoding": {"text": {"field": "scenario"}}},

  {"width": 209, "height": 213, "layer": [
    {"data": {"name": "frame"}, "mark": {"type": "rule", "color": "#8c8c8c", "strokeWidth": 1.2},
     "encoding": {"x": {"field": "from", "type": "quantitative", "scale": {"domain": [-0.052, 0.85], "nice": false, "zero": false}, "axis": {"values": [0,0.2,0.4,0.6,0.8], "domain": false, "labels": false, "title": null}},
                  "x2": {"field": "to"},
                  "y": {"field": "level", "type": "quantitative", "scale": {"domain": [0, 130], "nice": false}, "axis": {"values": [0,20,40,60,80,100,120], "labelExpr": "'' + datum.value", "title": "Pressure [mmHg]"}}}},
    {"data": {"name": "pressure"}, "transform": [{"filter": "datum.scenario === 'NORMAL'"}],
     "mark": {"type": "line", "color": "#262626", "strokeWidth": 2.6, "interpolate": "monotone"},
     "encoding": {"x": {"field": "t", "type": "quantitative"}, "y": {"field": "p", "type": "quantitative"},
                  "strokeDash": {"field": "chamber", "type": "nominal", "scale": {"domain": ["LV","RV"], "range": [[1,0],[7,4]]},
                                 "legend": {"title": null, "orient": "none", "legendX": 155, "legendY": 11, "symbolType": "M-2,0L2,0", "symbolSize": 324, "symbolStrokeWidth": 2.6, "symbolStrokeColor": "#262626", "symbolFillColor": "transparent", "labelFontSize": 20, "labelOffset": 16, "rowPadding": 3, "padding": 0}}}}
  ]},
  {"width": 209, "height": 213, "layer": [
    {"data": {"name": "frame"}, "mark": {"type": "rule", "color": "#8c8c8c", "strokeWidth": 1.2},
     "encoding": {"x": {"field": "from", "type": "quantitative", "scale": {"domain": [-0.052, 0.85], "nice": false, "zero": false}, "axis": {"values": [0,0.2,0.4,0.6,0.8], "domain": false, "labels": false, "title": null}},
                  "x2": {"field": "to"},
                  "y": {"field": "level", "type": "quantitative", "scale": {"domain": [0, 130], "nice": false}, "axis": {"values": [0,20,40,60,80,100,120], "labels": false, "title": null}}}},
    {"data": {"name": "pressure"}, "transform": [{"filter": "datum.scenario === 'PAH-Comp'"}],
     "mark": {"type": "line", "color": "#262626", "strokeWidth": 2.6, "interpolate": "monotone"},
     "encoding": {"x": {"field": "t", "type": "quantitative"}, "y": {"field": "p", "type": "quantitative"},
                  "strokeDash": {"field": "chamber", "type": "nominal", "scale": {"domain": ["LV","RV"], "range": [[1,0],[7,4]]}, "legend": null}}}
  ]},
  {"width": 209, "height": 213, "layer": [
    {"data": {"name": "frame"}, "mark": {"type": "rule", "color": "#8c8c8c", "strokeWidth": 1.2},
     "encoding": {"x": {"field": "from", "type": "quantitative", "scale": {"domain": [-0.052, 0.85], "nice": false, "zero": false}, "axis": {"values": [0,0.2,0.4,0.6,0.8], "domain": false, "labels": false, "title": null}},
                  "x2": {"field": "to"},
                  "y": {"field": "level", "type": "quantitative", "scale": {"domain": [0, 130], "nice": false}, "axis": {"values": [0,20,40,60,80,100,120], "labels": false, "title": null}}}},
    {"data": {"name": "pressure"}, "transform": [{"filter": "datum.scenario === 'PAH-DecompMod'"}],
     "mark": {"type": "line", "color": "#262626", "strokeWidth": 2.6, "interpolate": "monotone"},
     "encoding": {"x": {"field": "t", "type": "quantitative"}, "y": {"field": "p", "type": "quantitative"},
                  "strokeDash": {"field": "chamber", "type": "nominal", "scale": {"domain": ["LV","RV"], "range": [[1,0],[7,4]]}, "legend": null}}}
  ]},
  {"width": 209, "height": 213, "layer": [
    {"data": {"name": "frame"}, "mark": {"type": "rule", "color": "#8c8c8c", "strokeWidth": 1.2},
     "encoding": {"x": {"field": "from", "type": "quantitative", "scale": {"domain": [-0.052, 0.85], "nice": false, "zero": false}, "axis": {"values": [0,0.2,0.4,0.6,0.8], "domain": false, "labels": false, "title": null}},
                  "x2": {"field": "to"},
                  "y": {"field": "level", "type": "quantitative", "scale": {"domain": [0, 130], "nice": false}, "axis": {"values": [0,20,40,60,80,100,120], "labels": false, "title": null}}}},
    {"data": {"name": "pressure"}, "transform": [{"filter": "datum.scenario === 'PAH-DecompSev'"}],
     "mark": {"type": "line", "color": "#262626", "strokeWidth": 2.6, "interpolate": "monotone"},
     "encoding": {"x": {"field": "t", "type": "quantitative"}, "y": {"field": "p", "type": "quantitative"},
                  "strokeDash": {"field": "chamber", "type": "nominal", "scale": {"domain": ["LV","RV"], "range": [[1,0],[7,4]]}, "legend": null}}}
  ]},

  {"width": 209, "height": 38, "data": {"values": []}, "mark": "point"},
  {"width": 209, "height": 38, "data": {"values": []}, "mark": "point"},
  {"width": 209, "height": 38, "data": {"values": []}, "mark": "point"},
  {"width": 209, "height": 38, "data": {"values": []}, "mark": "point"},

  {"width": 209, "height": 202, "layer": [
    {"data": {"name": "frame"}, "mark": {"type": "rule", "color": "#8c8c8c", "strokeWidth": 1.2},
     "encoding": {"x": {"field": "from", "type": "quantitative", "scale": {"domain": [-0.052, 0.85], "nice": false, "zero": false}, "axis": {"values": [0,0.2,0.4,0.6,0.8], "domain": false, "labels": false, "title": null}},
                  "x2": {"field": "to"},
                  "y": {"field": "level", "type": "quantitative", "scale": {"domain": [0, 1], "nice": false}, "axis": {"values": [0,0.2,0.4,0.6,0.8,1], "labelExpr": "'' + datum.value", "title": "Normalized pressure [-]"}}}},
    {"data": {"name": "norm"}, "transform": [{"filter": "datum.scenario === 'NORMAL'"}],
     "mark": {"type": "line", "color": "#262626", "strokeWidth": 2.6, "interpolate": "monotone"},
     "encoding": {"x": {"field": "t", "type": "quantitative"}, "y": {"field": "n", "type": "quantitative"},
                  "strokeDash": {"field": "chamber", "type": "nominal", "scale": {"domain": ["LV","RV"], "range": [[1,0],[7,4]]}, "legend": null}}},
    {"data": {"name": "dtdec"}, "transform": [{"filter": "datum.scenario === 'NORMAL'"}],
     "layer": [
       {"mark": {"type": "text", "text": "Δt", "fontSize": 21, "align": "left", "baseline": "middle", "color": "#1a1a1a"}, "encoding": {"x": {"field": "t", "type": "quantitative"}, "y": {"datum": 0.52}}},
       {"mark": {"type": "text", "text": "dec", "fontSize": 13, "align": "left", "baseline": "middle", "dx": 21, "dy": 7, "color": "#1a1a1a"}, "encoding": {"x": {"field": "t", "type": "quantitative"}, "y": {"datum": 0.52}}},
       {"mark": {"type": "text", "text": "=", "fontSize": 21, "align": "left", "baseline": "middle", "dx": 41, "color": "#1a1a1a"}, "encoding": {"x": {"field": "t", "type": "quantitative"}, "y": {"datum": 0.52}}},
       {"mark": {"type": "text", "fontSize": 12, "align": "center", "baseline": "middle", "dx": 25, "dy": 21, "color": "#1a1a1a"}, "encoding": {"x": {"field": "t", "type": "quantitative"}, "y": {"datum": 0.52}, "text": {"field": "label"}}},
       {"mark": {"type": "text", "text": "→", "font": "DejaVu Sans", "fontSize": 19, "align": "center", "baseline": "middle", "color": "#333333"}, "encoding": {"x": {"field": "tl", "type": "quantitative"}, "y": {"datum": 0.5}}},
       {"mark": {"type": "text", "text": "←", "font": "DejaVu Sans", "fontSize": 19, "align": "center", "baseline": "middle", "color": "#333333"}, "encoding": {"x": {"field": "tr", "type": "quantitative"}, "y": {"datum": 0.5}}}
     ]}
  ]},
  {"width": 209, "height": 202, "layer": [
    {"data": {"name": "frame"}, "mark": {"type": "rule", "color": "#8c8c8c", "strokeWidth": 1.2},
     "encoding": {"x": {"field": "from", "type": "quantitative", "scale": {"domain": [-0.052, 0.85], "nice": false, "zero": false}, "axis": {"values": [0,0.2,0.4,0.6,0.8], "domain": false, "labels": false, "title": null}},
                  "x2": {"field": "to"},
                  "y": {"field": "level", "type": "quantitative", "scale": {"domain": [0, 1], "nice": false}, "axis": {"values": [0,0.2,0.4,0.6,0.8,1], "labels": false, "title": null}}}},
    {"data": {"name": "norm"}, "transform": [{"filter": "datum.scenario === 'PAH-Comp'"}],
     "mark": {"type": "line", "color": "#262626", "strokeWidth": 2.6, "interpolate": "monotone"},
     "encoding": {"x": {"field": "t", "type": "quantitative"}, "y": {"field": "n", "type": "quantitative"},
                  "strokeDash": {"field": "chamber", "type": "nominal", "scale": {"domain": ["LV","RV"], "range": [[1,0],[7,4]]}, "legend": null}}},
    {"data": {"name": "dtdec"}, "transform": [{"filter": "datum.scenario === 'PAH-Comp'"}],
     "layer": [
       {"mark": {"type": "text", "text": "Δt", "fontSize": 21, "align": "left", "baseline": "middle", "color": "#1a1a1a"}, "encoding": {"x": {"field": "t", "type": "quantitative"}, "y": {"datum": 0.52}}},
       {"mark": {"type": "text", "text": "dec", "fontSize": 13, "align": "left", "baseline": "middle", "dx": 21, "dy": 7, "color": "#1a1a1a"}, "encoding": {"x": {"field": "t", "type": "quantitative"}, "y": {"datum": 0.52}}},
       {"mark": {"type": "text", "text": "=", "fontSize": 21, "align": "left", "baseline": "middle", "dx": 41, "color": "#1a1a1a"}, "encoding": {"x": {"field": "t", "type": "quantitative"}, "y": {"datum": 0.52}}},
       {"mark": {"type": "text", "fontSize": 12, "align": "center", "baseline": "middle", "dx": 25, "dy": 21, "color": "#1a1a1a"}, "encoding": {"x": {"field": "t", "type": "quantitative"}, "y": {"datum": 0.52}, "text": {"field": "label"}}},
       {"mark": {"type": "text", "text": "→", "font": "DejaVu Sans", "fontSize": 19, "align": "center", "baseline": "middle", "color": "#333333"}, "encoding": {"x": {"field": "tl", "type": "quantitative"}, "y": {"datum": 0.5}}},
       {"mark": {"type": "text", "text": "←", "font": "DejaVu Sans", "fontSize": 19, "align": "center", "baseline": "middle", "color": "#333333"}, "encoding": {"x": {"field": "tr", "type": "quantitative"}, "y": {"datum": 0.5}}}
     ]}
  ]},
  {"width": 209, "height": 202, "layer": [
    {"data": {"name": "frame"}, "mark": {"type": "rule", "color": "#8c8c8c", "strokeWidth": 1.2},
     "encoding": {"x": {"field": "from", "type": "quantitative", "scale": {"domain": [-0.052, 0.85], "nice": false, "zero": false}, "axis": {"values": [0,0.2,0.4,0.6,0.8], "domain": false, "labels": false, "title": null}},
                  "x2": {"field": "to"},
                  "y": {"field": "level", "type": "quantitative", "scale": {"domain": [0, 1], "nice": false}, "axis": {"values": [0,0.2,0.4,0.6,0.8,1], "labels": false, "title": null}}}},
    {"data": {"name": "norm"}, "transform": [{"filter": "datum.scenario === 'PAH-DecompMod'"}],
     "mark": {"type": "line", "color": "#262626", "strokeWidth": 2.6, "interpolate": "monotone"},
     "encoding": {"x": {"field": "t", "type": "quantitative"}, "y": {"field": "n", "type": "quantitative"},
                  "strokeDash": {"field": "chamber", "type": "nominal", "scale": {"domain": ["LV","RV"], "range": [[1,0],[7,4]]}, "legend": null}}},
    {"data": {"name": "dtdec"}, "transform": [{"filter": "datum.scenario === 'PAH-DecompMod'"}],
     "layer": [
       {"mark": {"type": "text", "text": "Δt", "fontSize": 21, "align": "left", "baseline": "middle", "color": "#1a1a1a"}, "encoding": {"x": {"field": "t", "type": "quantitative"}, "y": {"datum": 0.52}}},
       {"mark": {"type": "text", "text": "dec", "fontSize": 13, "align": "left", "baseline": "middle", "dx": 21, "dy": 7, "color": "#1a1a1a"}, "encoding": {"x": {"field": "t", "type": "quantitative"}, "y": {"datum": 0.52}}},
       {"mark": {"type": "text", "text": "=", "fontSize": 21, "align": "left", "baseline": "middle", "dx": 41, "color": "#1a1a1a"}, "encoding": {"x": {"field": "t", "type": "quantitative"}, "y": {"datum": 0.52}}},
       {"mark": {"type": "text", "fontSize": 12, "align": "center", "baseline": "middle", "dx": 25, "dy": 21, "color": "#1a1a1a"}, "encoding": {"x": {"field": "t", "type": "quantitative"}, "y": {"datum": 0.52}, "text": {"field": "label"}}},
       {"mark": {"type": "text", "text": "→", "font": "DejaVu Sans", "fontSize": 19, "align": "center", "baseline": "middle", "color": "#333333"}, "encoding": {"x": {"field": "tl", "type": "quantitative"}, "y": {"datum": 0.5}}},
       {"mark": {"type": "text", "text": "←", "font": "DejaVu Sans", "fontSize": 19, "align": "center", "baseline": "middle", "color": "#333333"}, "encoding": {"x": {"field": "tr", "type": "quantitative"}, "y": {"datum": 0.5}}}
     ]}
  ]},
  {"width": 209, "height": 202, "layer": [
    {"data": {"name": "frame"}, "mark": {"type": "rule", "color": "#8c8c8c", "strokeWidth": 1.2},
     "encoding": {"x": {"field": "from", "type": "quantitative", "scale": {"domain": [-0.052, 0.85], "nice": false, "zero": false}, "axis": {"values": [0,0.2,0.4,0.6,0.8], "domain": false, "labels": false, "title": null}},
                  "x2": {"field": "to"},
                  "y": {"field": "level", "type": "quantitative", "scale": {"domain": [0, 1], "nice": false}, "axis": {"values": [0,0.2,0.4,0.6,0.8,1], "labels": false, "title": null}}}},
    {"data": {"name": "norm"}, "transform": [{"filter": "datum.scenario === 'PAH-DecompSev'"}],
     "mark": {"type": "line", "color": "#262626", "strokeWidth": 2.6, "interpolate": "monotone"},
     "encoding": {"x": {"field": "t", "type": "quantitative"}, "y": {"field": "n", "type": "quantitative"},
                  "strokeDash": {"field": "chamber", "type": "nominal", "scale": {"domain": ["LV","RV"], "range": [[1,0],[7,4]]}, "legend": null}}},
    {"data": {"name": "dtdec"}, "transform": [{"filter": "datum.scenario === 'PAH-DecompSev'"}],
     "layer": [
       {"mark": {"type": "text", "text": "Δt", "fontSize": 21, "align": "left", "baseline": "middle", "color": "#1a1a1a"}, "encoding": {"x": {"field": "t", "type": "quantitative"}, "y": {"datum": 0.52}}},
       {"mark": {"type": "text", "text": "dec", "fontSize": 13, "align": "left", "baseline": "middle", "dx": 21, "dy": 7, "color": "#1a1a1a"}, "encoding": {"x": {"field": "t", "type": "quantitative"}, "y": {"datum": 0.52}}},
       {"mark": {"type": "text", "text": "=", "fontSize": 21, "align": "left", "baseline": "middle", "dx": 41, "color": "#1a1a1a"}, "encoding": {"x": {"field": "t", "type": "quantitative"}, "y": {"datum": 0.52}}},
       {"mark": {"type": "text", "fontSize": 12, "align": "center", "baseline": "middle", "dx": 25, "dy": 21, "color": "#1a1a1a"}, "encoding": {"x": {"field": "t", "type": "quantitative"}, "y": {"datum": 0.52}, "text": {"field": "label"}}},
       {"mark": {"type": "text", "text": "→", "font": "DejaVu Sans", "fontSize": 19, "align": "center", "baseline": "middle", "color": "#333333"}, "encoding": {"x": {"field": "tl", "type": "quantitative"}, "y": {"datum": 0.5}}},
       {"mark": {"type": "text", "text": "←", "font": "DejaVu Sans", "fontSize": 19, "align": "center", "baseline": "middle", "color": "#333333"}, "encoding": {"x": {"field": "tr", "type": "quantitative"}, "y": {"datum": 0.5}}}
     ]}
  ]},

  {"width": 209, "height": 39, "data": {"values": []}, "mark": "point"},
  {"width": 209, "height": 39, "data": {"values": []}, "mark": "point"},
  {"width": 209, "height": 39, "data": {"values": []}, "mark": "point"},
  {"width": 209, "height": 39, "data": {"values": []}, "mark": "point"},

  {"width": 209, "height": 214, "layer": [
    {"data": {"name": "frame"}, "mark": {"type": "rule", "color": "#8c8c8c", "strokeWidth": 1.2},
     "encoding": {"x": {"field": "from", "type": "quantitative", "scale": {"domain": [-0.052, 0.85], "nice": false, "zero": false}, "axis": null},
                  "x2": {"field": "to"},
                  "y": {"field": "level", "type": "quantitative", "scale": {"domain": [-25, 10], "nice": false, "zero": false}, "axis": {"values": [-20,-10,0,10], "labelExpr": "'' + datum.value", "title": "Circumferential strain [%]"}}}},
    {"data": {"name": "ticks"}, "mark": {"type": "point", "shape": "M0,0L0,-1", "size": 144, "filled": false, "stroke": "#8c8c8c", "strokeWidth": 1.2, "opacity": 1},
     "encoding": {"x": {"field": "t", "type": "quantitative", "axis": null}, "y": {"datum": 0}}},
    {"data": {"name": "onset"}, "transform": [{"filter": "datum.scenario === 'NORMAL'"}], "mark": {"type": "rule", "color": "#8c8c8c", "strokeDash": [6,5], "strokeWidth": 1.5},
     "encoding": {"x": {"field": "t", "type": "quantitative", "axis": null}}},
    {"data": {"name": "strain"}, "transform": [{"filter": "datum.scenario === 'NORMAL'"}],
     "mark": {"type": "line", "strokeWidth": 2.6, "interpolate": "monotone"},
     "encoding": {"x": {"field": "t", "type": "quantitative", "axis": null}, "y": {"field": "s", "type": "quantitative"},
                  "color": {"field": "segment", "type": "nominal", "scale": {"domain": ["LVFW","SEPT","RVFW"], "range": ["#e23a3f","#2b2b2b","#2a78c0"]},
                            "legend": {"title": null, "orient": "none", "legendX": 114, "legendY": -23, "symbolType": "stroke", "symbolSize": 900, "symbolStrokeWidth": 3, "labelFontSize": 20, "labelOffset": 8, "rowPadding": 1, "padding": 0}}}}
  ]},
  {"width": 209, "height": 214, "layer": [
    {"data": {"name": "frame"}, "mark": {"type": "rule", "color": "#8c8c8c", "strokeWidth": 1.2},
     "encoding": {"x": {"field": "from", "type": "quantitative", "scale": {"domain": [-0.052, 0.85], "nice": false, "zero": false}, "axis": null},
                  "x2": {"field": "to"},
                  "y": {"field": "level", "type": "quantitative", "scale": {"domain": [-25, 10], "nice": false, "zero": false}, "axis": {"values": [-20,-10,0,10], "labels": false, "title": null}}}},
    {"data": {"name": "ticks"}, "mark": {"type": "point", "shape": "M0,0L0,-1", "size": 144, "filled": false, "stroke": "#8c8c8c", "strokeWidth": 1.2, "opacity": 1},
     "encoding": {"x": {"field": "t", "type": "quantitative", "axis": null}, "y": {"datum": 0}}},
    {"data": {"name": "onset"}, "transform": [{"filter": "datum.scenario === 'PAH-Comp'"}], "mark": {"type": "rule", "color": "#8c8c8c", "strokeDash": [6,5], "strokeWidth": 1.5},
     "encoding": {"x": {"field": "t", "type": "quantitative", "axis": null}}},
    {"data": {"name": "strain"}, "transform": [{"filter": "datum.scenario === 'PAH-Comp'"}],
     "mark": {"type": "line", "strokeWidth": 2.6, "interpolate": "monotone"},
     "encoding": {"x": {"field": "t", "type": "quantitative", "axis": null}, "y": {"field": "s", "type": "quantitative"},
                  "color": {"field": "segment", "type": "nominal", "scale": {"domain": ["LVFW","SEPT","RVFW"], "range": ["#e23a3f","#2b2b2b","#2a78c0"]}, "legend": null}}}
  ]},
  {"width": 209, "height": 214, "layer": [
    {"data": {"name": "frame"}, "mark": {"type": "rule", "color": "#8c8c8c", "strokeWidth": 1.2},
     "encoding": {"x": {"field": "from", "type": "quantitative", "scale": {"domain": [-0.052, 0.85], "nice": false, "zero": false}, "axis": null},
                  "x2": {"field": "to"},
                  "y": {"field": "level", "type": "quantitative", "scale": {"domain": [-25, 10], "nice": false, "zero": false}, "axis": {"values": [-20,-10,0,10], "labels": false, "title": null}}}},
    {"data": {"name": "ticks"}, "mark": {"type": "point", "shape": "M0,0L0,-1", "size": 144, "filled": false, "stroke": "#8c8c8c", "strokeWidth": 1.2, "opacity": 1},
     "encoding": {"x": {"field": "t", "type": "quantitative", "axis": null}, "y": {"datum": 0}}},
    {"data": {"name": "onset"}, "transform": [{"filter": "datum.scenario === 'PAH-DecompMod'"}], "mark": {"type": "rule", "color": "#8c8c8c", "strokeDash": [6,5], "strokeWidth": 1.5},
     "encoding": {"x": {"field": "t", "type": "quantitative", "axis": null}}},
    {"data": {"name": "strain"}, "transform": [{"filter": "datum.scenario === 'PAH-DecompMod'"}],
     "mark": {"type": "line", "strokeWidth": 2.6, "interpolate": "monotone"},
     "encoding": {"x": {"field": "t", "type": "quantitative", "axis": null}, "y": {"field": "s", "type": "quantitative"},
                  "color": {"field": "segment", "type": "nominal", "scale": {"domain": ["LVFW","SEPT","RVFW"], "range": ["#e23a3f","#2b2b2b","#2a78c0"]}, "legend": null}}}
  ]},
  {"width": 209, "height": 214, "layer": [
    {"data": {"name": "frame"}, "mark": {"type": "rule", "color": "#8c8c8c", "strokeWidth": 1.2},
     "encoding": {"x": {"field": "from", "type": "quantitative", "scale": {"domain": [-0.052, 0.85], "nice": false, "zero": false}, "axis": null},
                  "x2": {"field": "to"},
                  "y": {"field": "level", "type": "quantitative", "scale": {"domain": [-25, 10], "nice": false, "zero": false}, "axis": {"values": [-20,-10,0,10], "labels": false, "title": null}}}},
    {"data": {"name": "ticks"}, "mark": {"type": "point", "shape": "M0,0L0,-1", "size": 144, "filled": false, "stroke": "#8c8c8c", "strokeWidth": 1.2, "opacity": 1},
     "encoding": {"x": {"field": "t", "type": "quantitative", "axis": null}, "y": {"datum": 0}}},
    {"data": {"name": "onset"}, "transform": [{"filter": "datum.scenario === 'PAH-DecompSev'"}], "mark": {"type": "rule", "color": "#8c8c8c", "strokeDash": [6,5], "strokeWidth": 1.5},
     "encoding": {"x": {"field": "t", "type": "quantitative", "axis": null}}},
    {"data": {"name": "strain"}, "transform": [{"filter": "datum.scenario === 'PAH-DecompSev'"}],
     "mark": {"type": "line", "strokeWidth": 2.6, "interpolate": "monotone"},
     "encoding": {"x": {"field": "t", "type": "quantitative", "axis": null}, "y": {"field": "s", "type": "quantitative"},
                  "color": {"field": "segment", "type": "nominal", "scale": {"domain": ["LVFW","SEPT","RVFW"], "range": ["#e23a3f","#2b2b2b","#2a78c0"]}, "legend": null}}}
  ]},

  {"width": 209, "height": 60, "layer": [
    {"data": {"name": "onset"}, "transform": [{"filter": "datum.scenario === 'NORMAL'"}], "mark": {"type": "rule", "color": "#8c8c8c", "strokeDash": [6,5], "strokeWidth": 1.5},
     "encoding": {"x": {"field": "t", "type": "quantitative", "scale": {"domain": [-0.052, 0.85], "nice": false, "zero": false}, "axis": {"values": [0,0.2,0.4,0.6,0.8], "labelExpr": "'' + datum.value", "offset": 11, "labelPadding": 16, "titlePadding": 6, "title": "Time [s]"}}}},
    {"data": {"name": "phases"}, "transform": [{"filter": "datum.scenario === 'NORMAL'"}],
     "mark": {"type": "bar", "stroke": "#8c8c8c", "strokeWidth": 1, "opacity": 1},
     "encoding": {"x": {"field": "t0", "type": "quantitative"}, "x2": {"field": "t1"},
                  "y": {"field": "chamber", "type": "nominal", "scale": {"domain": ["LV","RV"], "paddingInner": 0.14, "paddingOuter": 0.74, "align": 1}, "axis": {"ticks": false, "domain": false, "labelPadding": -10, "labelFontSize": 18, "title": null}},
                  "color": {"field": "phase", "type": "nominal", "scale": {"domain": ["FILL","IC","EJ","IR"], "range": ["#3b3b3b","#b4b4b4","#ffffff","#b4b4b4"]}, "legend": null}}},
    {"data": {"name": "phaseLabels"},
     "mark": {"type": "text", "fontSize": 13, "baseline": "middle", "align": "center"},
     "encoding": {"x": {"field": "t", "type": "quantitative"}, "y": {"field": "chamber", "type": "nominal"},
                  "text": {"field": "label"},
                  "color": {"condition": {"test": "datum.label === 'FILL'", "value": "#ffffff"}, "value": "#333333"}}}
  ]},
  {"width": 209, "height": 60, "layer": [
    {"data": {"name": "onset"}, "transform": [{"filter": "datum.scenario === 'PAH-Comp'"}], "mark": {"type": "rule", "color": "#8c8c8c", "strokeDash": [6,5], "strokeWidth": 1.5},
     "encoding": {"x": {"field": "t", "type": "quantitative", "scale": {"domain": [-0.052, 0.85], "nice": false, "zero": false}, "axis": {"values": [0,0.2,0.4,0.6,0.8], "offset": 11, "labels": false, "title": null}}}},
    {"data": {"name": "phases"}, "transform": [{"filter": "datum.scenario === 'PAH-Comp'"}],
     "mark": {"type": "bar", "stroke": "#8c8c8c", "strokeWidth": 1, "opacity": 1},
     "encoding": {"x": {"field": "t0", "type": "quantitative"}, "x2": {"field": "t1"},
                  "y": {"field": "chamber", "type": "nominal", "scale": {"domain": ["LV","RV"], "paddingInner": 0.14, "paddingOuter": 0.74, "align": 1}, "axis": null},
                  "color": {"field": "phase", "type": "nominal", "scale": {"domain": ["FILL","IC","EJ","IR"], "range": ["#3b3b3b","#b4b4b4","#ffffff","#b4b4b4"]}, "legend": null}}}
  ]},
  {"width": 209, "height": 60, "layer": [
    {"data": {"name": "onset"}, "transform": [{"filter": "datum.scenario === 'PAH-DecompMod'"}], "mark": {"type": "rule", "color": "#8c8c8c", "strokeDash": [6,5], "strokeWidth": 1.5},
     "encoding": {"x": {"field": "t", "type": "quantitative", "scale": {"domain": [-0.052, 0.85], "nice": false, "zero": false}, "axis": {"values": [0,0.2,0.4,0.6,0.8], "offset": 11, "labels": false, "title": null}}}},
    {"data": {"name": "phases"}, "transform": [{"filter": "datum.scenario === 'PAH-DecompMod'"}],
     "mark": {"type": "bar", "stroke": "#8c8c8c", "strokeWidth": 1, "opacity": 1},
     "encoding": {"x": {"field": "t0", "type": "quantitative"}, "x2": {"field": "t1"},
                  "y": {"field": "chamber", "type": "nominal", "scale": {"domain": ["LV","RV"], "paddingInner": 0.14, "paddingOuter": 0.74, "align": 1}, "axis": null},
                  "color": {"field": "phase", "type": "nominal", "scale": {"domain": ["FILL","IC","EJ","IR"], "range": ["#3b3b3b","#b4b4b4","#ffffff","#b4b4b4"]}, "legend": null}}}
  ]},
  {"width": 209, "height": 60, "layer": [
    {"data": {"name": "onset"}, "transform": [{"filter": "datum.scenario === 'PAH-DecompSev'"}], "mark": {"type": "rule", "color": "#8c8c8c", "strokeDash": [6,5], "strokeWidth": 1.5},
     "encoding": {"x": {"field": "t", "type": "quantitative", "scale": {"domain": [-0.052, 0.85], "nice": false, "zero": false}, "axis": {"values": [0,0.2,0.4,0.6,0.8], "offset": 11, "labels": false, "title": null}}}},
    {"data": {"name": "phases"}, "transform": [{"filter": "datum.scenario === 'PAH-DecompSev'"}],
     "mark": {"type": "bar", "stroke": "#8c8c8c", "strokeWidth": 1, "opacity": 1},
     "encoding": {"x": {"field": "t0", "type": "quantitative"}, "x2": {"field": "t1"},
                  "y": {"field": "chamber", "type": "nominal", "scale": {"domain": ["LV","RV"], "paddingInner": 0.14, "paddingOuter": 0.74, "align": 1}, "axis": null},
                  "color": {"field": "phase", "type": "nominal", "scale": {"domain": ["FILL","IC","EJ","IR"], "range": ["#3b3b3b","#b4b4b4","#ffffff","#b4b4b4"]}, "legend": null}}}
  ]}
]
}
